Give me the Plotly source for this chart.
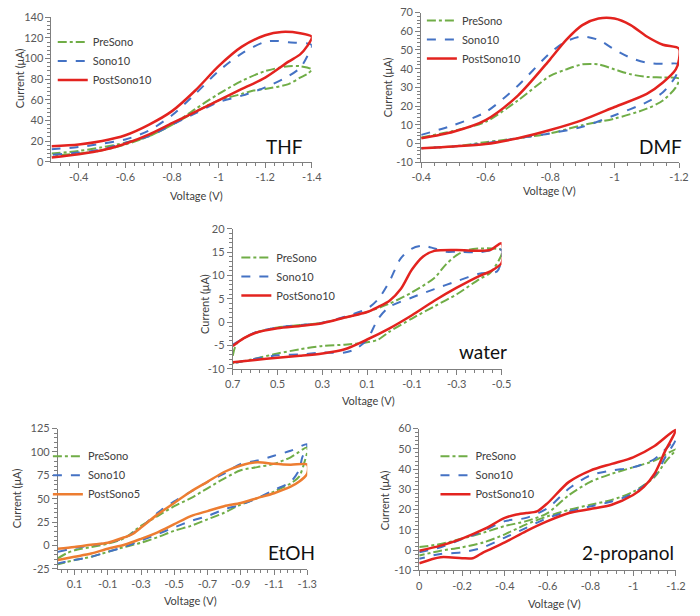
import plotly.graph_objects as go

W, H = 700, 616

# ---------------- THF ----------------
thf_pre_v = [-0.283, -0.4, -0.5, -0.6, -0.7, -0.8, -0.9, -1.0, -1.1, -1.2, -1.3, -1.35, -1.4,
             -1.38, -1.35, -1.3, -1.2, -1.15, -1.1, -1.0, -0.9, -0.8, -0.7, -0.6, -0.5, -0.4, -0.283]
thf_pre_i = [7.9, 10.4, 14, 18.3, 24.6, 35.7, 51, 65.7, 78.4, 87.8, 92.6, 92.6, 89.4,
             85, 81.5, 75.2, 70.5, 69, 65.7, 59.4, 48.3, 35.7, 24.6, 16.7, 11, 7.9, 5.7]
thf_sono_v = [-0.283, -0.4, -0.5, -0.6, -0.7, -0.8, -0.9, -1.0, -1.1, -1.2, -1.25, -1.3, -1.4,
              -1.38, -1.35, -1.3, -1.2, -1.1, -1.0, -0.9, -0.8, -0.7, -0.6, -0.5, -0.4, -0.283]
thf_sono_i = [12, 14.2, 17.5, 21.5, 30, 45, 65.7, 87.8, 105, 116.3, 117, 115.7, 113,
              102, 91, 83, 72, 64, 57.8, 46.8, 35.7, 24.6, 18.3, 12, 8.8, 6.6]
thf_post_v = [-0.283, -0.4, -0.5, -0.6, -0.7, -0.8, -0.9, -1.0, -1.1, -1.2, -1.27, -1.35, -1.4,
              -1.38, -1.35, -1.3, -1.2, -1.1, -1.0, -0.9, -0.8, -0.7, -0.6, -0.5, -0.4, -0.283]
thf_post_i = [15, 16.7, 20, 25.6, 35.7, 49, 69, 92.6, 111.5, 122.6, 125.8, 124.5, 121,
              112, 104, 97, 81.5, 70.5, 59.4, 48.3, 37.3, 26.2, 17.4, 11, 7.3, 4.1]

# ---------------- DMF ----------------
dmf_pre_v = [-0.4, -0.5, -0.6, -0.7, -0.8, -0.85, -0.9, -0.95, -1.0, -1.05, -1.1, -1.15, -1.2,
             -1.19, -1.15, -1.1, -1.0, -0.9, -0.8, -0.7, -0.6, -0.5, -0.4]
dmf_pre_i = [3.2, 6.7, 11.6, 23, 36.1, 39.6, 42.3, 42.3, 39.6, 37, 35.6, 35.3, 34.7,
             30, 23, 18.6, 13.3, 9.8, 5.4, 2.8, 0.7, -1.6, -2.5]
dmf_sono_v = [-0.4, -0.5, -0.6, -0.7, -0.8, -0.85, -0.9, -0.95, -1.0, -1.05, -1.1, -1.15, -1.2,
              -1.19, -1.15, -1.1, -1.0, -0.9, -0.8, -0.7, -0.6, -0.5, -0.4]
dmf_sono_i = [4.6, 9.8, 16.8, 30.9, 48.4, 54.6, 57.2, 55.4, 50.2, 45.8, 43.2, 42.6, 42.3,
              36.1, 27.4, 22.1, 15.1, 8.9, 5.4, 2.8, 0.2, -1.6, -2.5]
dmf_post_v = [-0.4, -0.5, -0.6, -0.7, -0.8, -0.85, -0.9, -0.95, -1.0, -1.05, -1.1, -1.15, -1.2,
              -1.2, -1.19, -1.15, -1.1, -1.0, -0.9, -0.8, -0.7, -0.6, -0.5, -0.4]
dmf_post_i = [2.8, 6.3, 12.5, 25.6, 45, 55.4, 63.3, 66.8, 66.8, 63.3, 57.2, 52.8, 50.7,
              45, 39.6, 32.6, 26.5, 19.5, 12.5, 7.2, 2.8, -0.35, -1.6, -2.5]

# ---------------- water ----------------
wat_pre_v = [0.7, 0.68, 0.6, 0.5, 0.4, 0.3, 0.2, 0.1, 0.0, -0.1, -0.2, -0.25, -0.3, -0.35, -0.4, -0.5,
             -0.5, -0.45, -0.4, -0.3, -0.2, -0.1, 0.0, 0.05, 0.1, 0.2, 0.3, 0.4, 0.5, 0.6, 0.7]
wat_pre_i = [-7.2, -4.4, -2.3, -1.1, -0.6, -0.1, 1.0, 2.2, 4.0, 6.4, 9.5, 12.3, 14.4, 15.5, 15.8, 15.5,
             14.5, 10.6, 9.2, 6.0, 3.4, 0.8, -2.0, -3.7, -4.3, -4.8, -5.1, -5.8, -6.7, -7.8, -8.8]
wat_sono_v = [0.7, 0.6, 0.5, 0.4, 0.3, 0.2, 0.1, 0.05, 0.0, -0.05, -0.1, -0.15, -0.2, -0.25, -0.3, -0.4, -0.5,
              -0.5, -0.48, -0.4, -0.3, -0.2, -0.1, 0.0, 0.05, 0.1, 0.15, 0.2, 0.3, 0.4, 0.5, 0.6, 0.7]
wat_sono_i = [-4.8, -2.2, -1.1, -0.6, -0.1, 1.2, 2.9, 5.0, 8.8, 13.7, 15.8, 16.4, 15.8, 15.1, 15.1, 15.0, 15.5,
              13.5, 10.9, 10.4, 8.8, 7.1, 5.3, 3.3, 0.8, -3.7, -5.7, -6.5, -6.5, -6.9, -7.1, -7.8, -8.8]
wat_post_v = [0.7, 0.65, 0.6, 0.5, 0.4, 0.3, 0.2, 0.1, 0.05, 0.0, -0.05, -0.1, -0.15, -0.2, -0.3, -0.4, -0.45, -0.5,
              -0.5, -0.45, -0.4, -0.3, -0.2, -0.1, 0.0, 0.1, 0.2, 0.3, 0.4, 0.5, 0.6, 0.7]
wat_post_i = [-5.1, -3.4, -2.3, -1.3, -0.8, -0.2, 1.0, 2.2, 3.3, 4.6, 7.1, 11.3, 14.1, 15.3, 15.5, 15.3, 15.5, 16.9,
              12.7, 10.9, 9.9, 7.4, 4.6, 1.5, -1.3, -3.7, -5.8, -6.7, -7.2, -7.6, -8.1, -8.6]

# ---------------- EtOH ----------------
eto_pre_v = [0.2, 0.15, 0.1, 0.0, -0.1, -0.2, -0.3, -0.4, -0.5, -0.6, -0.7, -0.8, -0.9, -1.0, -1.1, -1.2, -1.3,
             -1.28, -1.25, -1.2, -1.1, -1.0, -0.9, -0.8, -0.7, -0.6, -0.5, -0.4, -0.3, -0.2, -0.1, 0.0, 0.1, 0.2]
eto_pre_i = [-13.8, -8.6, -5.1, -1.6, 1.9, 7.8, 21, 31.5, 42, 50.7, 61.2, 71.6, 80.4, 83.8, 87.3, 94.3, 104.8,
             87.3, 73.4, 66.4, 57.7, 50.7, 43.7, 35, 28, 21, 15.8, 8.9, 2.9, -1.6, -6.8, -12.1, -15.6, -20.1]
eto_sono_v = [0.2, 0.1, 0.0, -0.1, -0.2, -0.3, -0.4, -0.5, -0.6, -0.7, -0.8, -0.9, -1.0, -1.1, -1.2, -1.3,
              -1.27, -1.25, -1.2, -1.1, -1.0, -0.9, -0.8, -0.7, -0.6, -0.5, -0.4, -0.3, -0.2, -0.1, 0.0, 0.1, 0.2]
eto_sono_i = [-6.8, -2.7, 0.1, 2.9, 7.8, 19.3, 35, 47.2, 57.7, 68.1, 76.9, 87.3, 90.8, 96, 101.3, 108.3,
              94.3, 80.4, 68.1, 59.4, 50.7, 43.7, 38.5, 31.5, 26.3, 19.3, 12.3, 5.4, -1.6, -6.8, -12.1, -15.6, -19.1]
eto_post_v = [0.2, 0.1, 0.0, -0.1, -0.2, -0.25, -0.3, -0.4, -0.5, -0.6, -0.7, -0.8, -0.9, -1.0, -1.1, -1.2, -1.3,
              -1.3, -1.25, -1.2, -1.1, -1.0, -0.9, -0.8, -0.7, -0.6, -0.5, -0.4, -0.3, -0.2, -0.1, 0.0, 0.1, 0.2]
eto_post_i = [-3.4, -1.6, 0.8, 2.9, 8.8, 12.3, 19.3, 33.3, 45.5, 57.7, 68.1, 78.6, 85.6, 89.1, 87.3, 86.3, 86.6,
              76.9, 68.1, 62.9, 55.9, 50.7, 45.5, 42, 36.8, 31.5, 22.8, 14.1, 7.1, 0.8, -3.4, -8.6, -12.1, -15.6]

# ---------------- 2-propanol ----------------
ipa_pre_v = [0.0, -0.1, -0.2, -0.3, -0.4, -0.5, -0.6, -0.7, -0.8, -0.9, -1.0, -1.1, -1.2,
             -1.15, -1.1, -1.0, -0.9, -0.8, -0.7, -0.6, -0.5, -0.4, -0.3, -0.2, -0.1, 0.0]
ipa_pre_i = [1.5, 3.0, 5.7, 8.6, 11.9, 14.3, 18.3, 27.2, 33.7, 37.7, 40.9, 44.2, 49.8,
             43.4, 36.1, 28.8, 24.8, 22.4, 19.9, 16.7, 12.7, 7.8, 3.8, 1.4, -0.3, -2.7]
ipa_sono_v = [0.0, -0.1, -0.2, -0.3, -0.4, -0.5, -0.6, -0.7, -0.8, -0.9, -1.0, -1.1, -1.2,
              -1.15, -1.1, -1.0, -0.9, -0.8, -0.7, -0.6, -0.5, -0.4, -0.3, -0.2, -0.1, 0.0]
ipa_sono_i = [-1.1, 1.4, 5.4, 9.4, 14.3, 15.9, 20.7, 30.4, 36.9, 39.3, 40.9, 45, 54.7,
              45.8, 36.9, 28, 24, 21.6, 19.1, 15.9, 11, 6.2, 1.4, -1.1, -1.9, -4.3]
ipa_post_v = [0.0, -0.1, -0.2, -0.3, -0.4, -0.45, -0.5, -0.55, -0.6, -0.7, -0.8, -0.9, -1.0, -1.1, -1.2,
              -1.15, -1.1, -1.05, -1.0, -0.9, -0.8, -0.7, -0.6, -0.5, -0.4, -0.3, -0.25, -0.2, -0.1, 0.0]
ipa_post_i = [-0.3, 2.2, 5.7, 10.2, 15.9, 17.5, 18.3, 19.1, 23.2, 33.7, 39.3, 42.6, 45.8, 51.4, 59.5,
              49, 37.7, 31.2, 27.2, 22.4, 20.3, 18.3, 14.3, 9.4, 3.8, -1.1, -4.0, -4.0, -3.5, -6.5]

# tick labels as printed in the figure (hyphen minus)
thf_xl = ["-0.4", "-0.6", "-0.8", "-1", "-1.2", "-1.4"]
dmf_xl = ["-0.4", "-0.6", "-0.8", "-1", "-1.2"]
wat_xl = ["0.7", "0.5", "0.3", "0.1", "-0.1", "-0.3", "-0.5"]
eto_xl = ["0.1", "-0.1", "-0.3", "-0.5", "-0.7", "-0.9", "-1.1", "-1.3"]
ipa_xl = ["0", "-0.2", "-0.4", "-0.6", "-0.8", "-1", "-1.2"]
y_neg_labels = ["-10", "-5", "-25"]

GREEN = "#70AD47"
BLUE = "#4472C4"
RED = "#E3231F"
ORANGE = "#ED7D31"
FONT = "Lato"
TICKC = "#595959"
AXC = "#7F7F7F"
NOGRID = "rgba(0,0,0,0)"


def px2x(p):
    return p / W


def px2y(p):
    return 1 - p / H


def alias(labels):
    return {("\u2212" + s[1:]): s for s in labels if s.startswith("-")}


fig = go.Figure()

panels = [
    ("", "legend",
     [("PreSono", thf_pre_v, thf_pre_i, GREEN, "dashdot", 2),
      ("Sono10", thf_sono_v, thf_sono_i, BLUE, "dash", 2),
      ("PostSono10", thf_post_v, thf_post_i, RED, "solid", 2.5)],
     [-0.283, -1.4], [0, 140], (42.7, 310.7), (10.5, 158), (-0.4, 0.2, 0.04), (20, 4), thf_xl),
    ("2", "legend2",
     [("PreSono", dmf_pre_v, dmf_pre_i, GREEN, "dashdot", 2),
      ("Sono10", dmf_sono_v, dmf_sono_i, BLUE, "dash", 2),
      ("PostSono10", dmf_post_v, dmf_post_i, RED, "solid", 2.5)],
     [-0.4, -1.2], [-10, 70], (423.3, 688.7), (5.7, 158.5), (-0.4, 0.2, 0.04), (10, 2), dmf_xl),
    ("3", "legend3",
     [("PreSono", wat_pre_v, wat_pre_i, GREEN, "dashdot", 2),
      ("Sono10", wat_sono_v, wat_sono_i, BLUE, "dash", 2),
      ("PostSono10", wat_post_v, wat_post_i, RED, "solid", 2.5)],
     [0.7, -0.5], [-10, 20], (229.3, 506), (226.7, 369.7), (0.7, 0.2, 0.04), (5, 1), wat_xl),
    ("4", "legend4",
     [("PreSono", eto_pre_v, eto_pre_i, GREEN, "dashdot", 2),
      ("Sono10", eto_sono_v, eto_sono_i, BLUE, "dash", 2),
      ("PostSono5", eto_post_v, eto_post_i, ORANGE, "solid", 2.5)],
     [0.2, -1.3], [-25, 125], (49.3, 306), (430.7, 574), (0.1, 0.2, 0.04), (25, 5), eto_xl),
    ("5", "legend5",
     [("PreSono", ipa_pre_v, ipa_pre_i, GREEN, "dashdot", 2),
      ("Sono10", ipa_sono_v, ipa_sono_i, BLUE, "dash", 2),
      ("PostSono10", ipa_post_v, ipa_post_i, RED, "solid", 2.5)],
     [0.0, -1.2], [-10, 60], (421.3, 685.5), (430.7, 575.5), (0.0, 0.2, 0.04), (10, 2), ipa_xl),
]

for suf, leg, series, xr, yr, xd, yd, xtk, ytk, xl in panels:
    for name, v, i, col, dash, wd in series:
        fig.add_trace(go.Scatter(
            x=v, y=i, name=name, mode="lines",
            line=dict(color=col, dash=dash, width=wd, shape="spline", smoothing=0.8),
            xaxis="x" + suf, yaxis="y" + suf, legend=leg,
        ))
    xa = dict(
        domain=[px2x(xd[0]), px2x(xd[1])], range=xr, anchor="y" + suf,
        tick0=xtk[0], dtick=xtk[1], labelalias=alias(xl),
        showgrid=True, gridcolor=NOGRID, zeroline=False,
        showline=True, linecolor=AXC, linewidth=1,
        ticks="outside", ticklen=5, tickcolor=AXC,
        tickfont=dict(family=FONT, size=11, color=TICKC),
        minor=dict(tick0=xtk[0], dtick=xtk[2], ticks="outside", ticklen=3, tickcolor=AXC,
                   showgrid=True, gridcolor=NOGRID),
    )
    ya = dict(
        domain=[px2y(yd[1]), px2y(yd[0])], range=yr, anchor="x" + suf,
        tick0=0, dtick=ytk[0], labelalias=alias(y_neg_labels),
        showgrid=True, gridcolor=NOGRID, zeroline=False,
        showline=True, linecolor=AXC, linewidth=1,
        ticks="outside", ticklen=5, tickcolor=AXC,
        tickfont=dict(family=FONT, size=11, color=TICKC),
        minor=dict(tick0=0, dtick=ytk[1], ticks="outside", ticklen=3, tickcolor=AXC,
                   showgrid=True, gridcolor=NOGRID),
    )
    fig.layout["xaxis" + suf] = xa
    fig.layout["yaxis" + suf] = ya

# legends: (left px, top px)
leg_pos = {
    "legend": (44, 21),
    "legend2": (424, -1),
    "legend3": (233, 241),
    "legend4": (39, 444),
    "legend5": (438, 444),
}
for lg, (lx, ly) in leg_pos.items():
    fig.layout[lg] = dict(
        x=px2x(lx), y=px2y(ly), xanchor="left", yanchor="top",
        bgcolor="rgba(0,0,0,0)", font=dict(family=FONT, size=11, color="#404040"),
        tracegroupgap=0, itemwidth=30,
    )

annots = []
for txt, cx, cy in [("THF", 283, 142), ("DMF", 670, 142), ("water", 487, 352),
                    ("EtOH", 290, 557), ("2-propanol", 636, 557)]:
    annots.append(dict(text=txt, x=px2x(cx), y=px2y(cy), xref="paper", yref="paper",
                       showarrow=False, xanchor="center", yanchor="middle",
                       font=dict(family=FONT, size=19, color="#111111")))
for cx, cy in [(192, 192.7), (555, 187), (369, 401.7), (186, 606), (560, 609)]:
    annots.append(dict(text="Voltage (V)", x=px2x(cx), y=px2y(cy), xref="paper", yref="paper",
                       showarrow=False, xanchor="center", yanchor="middle",
                       font=dict(family=FONT, size=11, color="#404040")))
for cx, cy in [(10, 73), (388, 82), (200, 303), (7, 502), (385, 504)]:
    annots.append(dict(text="Current (μA)", x=px2x(cx), y=px2y(cy), xref="paper", yref="paper",
                       showarrow=False, xanchor="center", yanchor="middle", textangle=-90,
                       font=dict(family=FONT, size=11, color="#404040")))

fig.update_layout(
    width=W, height=H, margin=dict(l=0, r=0, t=0, b=0),
    paper_bgcolor="white", plot_bgcolor="white",
    annotations=annots, showlegend=True,
)

fig.write_html("out.html")
